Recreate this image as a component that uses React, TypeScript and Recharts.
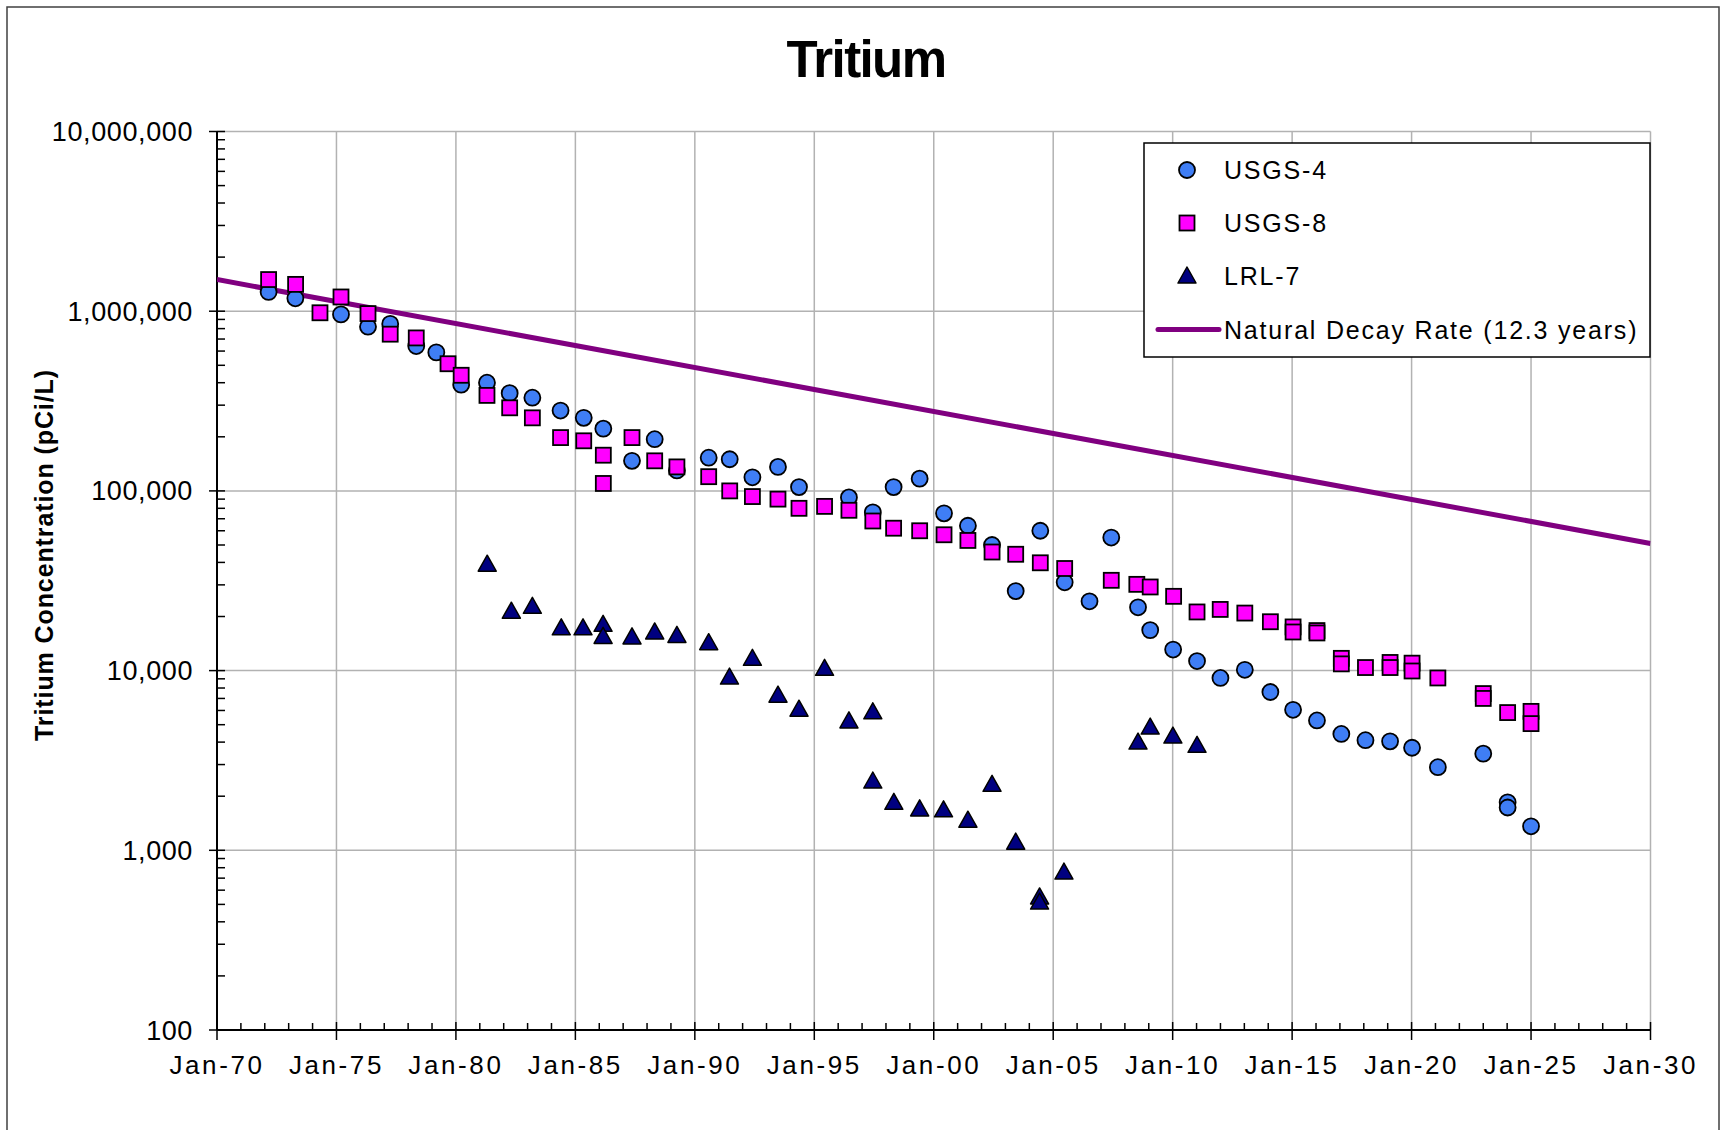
import React from "react";
import { ScatterChart, Scatter, XAxis, YAxis, CartesianGrid } from "recharts";

const FONT = '"Liberation Sans", Arial, Helvetica, sans-serif';

// [decimal year, tritium pCi/L]
const USGS4: [number, number][] = [
    [1972.16, 1280000], [1973.28, 1180000], [1975.19, 960000], [1976.32, 820000],
    [1977.25, 850000], [1978.34, 640000], [1979.18, 590000], [1980.22, 390000],
    [1981.3, 400000], [1982.25, 350000], [1983.2, 330000], [1984.38, 280000],
    [1985.35, 255000], [1986.17, 222000], [1987.37, 147000], [1988.32, 194000],
    [1989.25, 130000], [1990.58, 153000], [1991.46, 150000], [1992.41, 119000],
    [1993.48, 136000], [1994.36, 105000], [1996.45, 92000], [1997.45, 76000],
    [1998.32, 105000], [1999.41, 117000], [2000.43, 75000], [2001.43, 64000],
    [2002.44, 50000], [2003.43, 27700], [2004.46, 60000], [2005.48, 31000],
    [2006.52, 24300], [2007.43, 55000], [2008.55, 22500], [2009.06, 16800],
    [2010.02, 13100], [2011.02, 11300], [2012.0, 9100], [2013.02, 10100],
    [2014.09, 7600], [2015.04, 6050], [2016.04, 5280], [2017.06, 4440],
    [2018.07, 4100], [2019.1, 4040], [2020.02, 3720], [2021.1, 2900],
    [2023.0, 3450], [2024.02, 1850], [2024.02, 1730], [2025.0, 1360],
];

const USGS8: [number, number][] = [
    [1972.16, 1500000], [1973.29, 1410000], [1974.31, 980000], [1975.19, 1200000],
    [1976.32, 970000], [1977.25, 745000], [1978.34, 710000], [1979.67, 510000],
    [1980.22, 440000], [1981.3, 340000], [1982.25, 290000], [1983.2, 255000],
    [1984.38, 198000], [1985.35, 190000], [1986.17, 158000], [1986.17, 110000],
    [1987.37, 198000], [1988.32, 147000], [1989.25, 136000], [1990.58, 120000],
    [1991.46, 100000], [1992.41, 93000], [1993.48, 90000], [1994.36, 80000],
    [1995.43, 82000], [1996.45, 78000], [1997.45, 68000], [1998.32, 62000],
    [1999.41, 60000], [2000.43, 57000], [2001.43, 53000], [2002.44, 45700],
    [2003.43, 44400], [2004.46, 39800], [2005.48, 37000], [2007.43, 31800],
    [2008.5, 30200], [2009.06, 29200], [2010.04, 25900], [2011.02, 21200],
    [2011.99, 21900], [2013.02, 20900], [2014.09, 18700], [2015.04, 17500],
    [2015.04, 16400], [2016.04, 16700], [2016.04, 16200], [2017.06, 11700],
    [2017.06, 10900], [2018.07, 10400], [2019.1, 11100], [2019.1, 10400],
    [2020.02, 11000], [2020.02, 9950], [2021.1, 9100], [2023.0, 7450],
    [2023.0, 7000], [2024.02, 5840], [2025.0, 5930], [2025.0, 5070],
];

const LRL7: [number, number][] = [
    [1981.31, 39100], [1982.32, 21400], [1983.2, 22800], [1984.41, 17300],
    [1985.32, 17300], [1986.16, 18100], [1986.16, 15500], [1987.37, 15400],
    [1988.32, 16400], [1989.25, 15700], [1990.58, 14300], [1991.45, 9200],
    [1992.41, 11700], [1993.48, 7300], [1994.36, 6100], [1995.43, 10300],
    [1996.45, 5250], [1997.45, 5900], [1997.45, 2430], [1998.33, 1850],
    [1999.41, 1700], [2000.41, 1680], [2001.43, 1470], [2002.44, 2330],
    [2003.43, 1110], [2004.43, 550], [2004.43, 515], [2005.45, 757],
    [2008.55, 4000], [2009.06, 4850], [2010.01, 4320], [2011.02, 3840],
];

// natural decay, half-life 12.3 years
const DECAY: [number, number][] = [[1970, 1500000], [2030, 51000]];

const X_MAJOR = [1970, 1975, 1980, 1985, 1990, 1995, 2000, 2005, 2010, 2015, 2020, 2025, 2030];
const X_LABELS = ["Jan-70", "Jan-75", "Jan-80", "Jan-85", "Jan-90", "Jan-95", "Jan-00", "Jan-05", "Jan-10", "Jan-15", "Jan-20", "Jan-25", "Jan-30"];
const X_TICKS = Array.from({ length: 61 }, (_, i) => 1970 + i);

const Y_MAJOR = [100, 1000, 10000, 100000, 1000000, 10000000];
const Y_LABELS = ["100", "1,000", "10,000", "100,000", "1,000,000", "10,000,000"];
const Y_TICKS = Y_MAJOR.flatMap((d, i) =>
    i === Y_MAJOR.length - 1 ? [d] : [1, 2, 3, 4, 5, 6, 7, 8, 9].map((m) => d * m)
);

const toPoints = (rows: [number, number][]) => rows.map(([x, y]) => ({ x, y }));

const BLUE = "#3F7EF5";
const MAGENTA = "#FF00FF";
const NAVY = "#000080";
const PURPLE = "#800080";

const CircleMark = ({ cx, cy }: any) => (
    <circle cx={cx} cy={cy} r={8} fill={BLUE} stroke="#000" strokeWidth={1.8} />
);
const SquareMark = ({ cx, cy }: any) => (
    <rect x={cx - 7.5} y={cy - 7.5} width={15} height={15} fill={MAGENTA} stroke="#000" strokeWidth={1.8} />
);
const TriangleMark = ({ cx, cy }: any) => (
    <polygon points={`${cx},${cy - 9} ${cx - 9},${cy + 7} ${cx + 9},${cy + 7}`} fill={NAVY} stroke="#000" strokeWidth={1.5} strokeLinejoin="round" />
);
const NoMark = () => <g />;

const XTick = ({ x, y, payload }: any) => {
    const i = X_MAJOR.indexOf(payload.value);
    if (i < 0) return <line x1={x} x2={x} y1={y - 7} y2={y} stroke="#000" strokeWidth={1.5} />;
    return (
        <g>
            <line x1={x} x2={x} y1={y - 8} y2={y + 10} stroke="#000" strokeWidth={1.5} />
            <text x={x} y={y + 44} textAnchor="middle" fontSize={26} letterSpacing={2.6} fontFamily={FONT} fill="#000">
                {X_LABELS[i]}
            </text>
        </g>
    );
};

const YTick = ({ x, y, payload }: any) => {
    const i = Y_MAJOR.indexOf(payload.value);
    if (i < 0) return <line x1={x} x2={x + 8} y1={y} y2={y} stroke="#000" strokeWidth={1.5} />;
    return (
        <g>
            <line x1={x - 8} x2={x + 8} y1={y} y2={y} stroke="#000" strokeWidth={1.5} />
            <text x={x - 24} y={y + 9.5} textAnchor="end" fontSize={27} letterSpacing={0.6} fontFamily={FONT} fill="#000">
                {Y_LABELS[i]}
            </text>
        </g>
    );
};

const legendItems = [
    { label: "USGS-4", kind: "circle" },
    { label: "USGS-8", kind: "square" },
    { label: "LRL-7", kind: "triangle" },
    { label: "Natural Decay Rate (12.3 years)", kind: "line" },
];

function Legend() {
    const rows = [170, 223, 276, 329.5];
    return (
        <g>
            <rect x={1144} y={143} width={506} height={214} fill="#fff" stroke="#000" strokeWidth={1.5} />
            {legendItems.map((it, i) => {
                const cy = rows[i];
                let mark = null;
                if (it.kind === "circle") mark = <CircleMark cx={1187} cy={cy} />;
                if (it.kind === "square") mark = <SquareMark cx={1187} cy={cy} />;
                if (it.kind === "triangle") mark = <TriangleMark cx={1187} cy={cy} />;
                if (it.kind === "line")
                    mark = <line x1={1158} x2={1219} y1={cy} y2={cy} stroke={PURPLE} strokeWidth={5} strokeLinecap="round" />;
                return (
                    <g key={it.label}>
                        {mark}
                        <text x={1224} y={cy + 9} fontSize={25} letterSpacing={1.8} fontFamily={FONT} fill="#000">
                            {it.label}
                        </text>
                    </g>
                );
            })}
        </g>
    );
}

export default function App() {
    return (
        <div style={{ position: "absolute", left: 0, top: 0, width: 1722, height: 1130, background: "#fff", overflow: "hidden" }}>
            <ScatterChart
                width={1722}
                height={1130}
                margin={{ top: 131.5, right: 71.5, bottom: 40, left: 17 }}
            >
                <CartesianGrid
                    stroke="#b2b2b2"
                    strokeWidth={1.5}
                    horizontalValues={Y_MAJOR}
                    verticalValues={X_MAJOR}
                />
                <XAxis
                    type="number"
                    dataKey="x"
                    domain={[1970, 2030]}
                    ticks={X_TICKS}
                    interval={0}
                    height={60}
                    tickSize={0}
                    tickMargin={0}
                    tickLine={false}
                    axisLine={{ stroke: "#000", strokeWidth: 2 }}
                    tick={<XTick />}
                    allowDataOverflow
                />
                <YAxis
                    type="number"
                    dataKey="y"
                    scale="log"
                    domain={[100, 10000000]}
                    ticks={Y_TICKS}
                    interval={0}
                    width={200}
                    tickSize={0}
                    tickMargin={0}
                    tickLine={false}
                    axisLine={{ stroke: "#000", strokeWidth: 2 }}
                    tick={<YTick />}
                    allowDataOverflow
                />
                <Scatter
                    name="Natural Decay Rate (12.3 years)"
                    data={toPoints(DECAY)}
                    line={{ stroke: PURPLE, strokeWidth: 5 }}
                    shape={<NoMark />}
                    fill={PURPLE}
                    isAnimationActive={false}
                />
                <Scatter name="USGS-4" data={toPoints(USGS4)} shape={<CircleMark />} fill={BLUE} isAnimationActive={false} />
                <Scatter name="USGS-8" data={toPoints(USGS8)} shape={<SquareMark />} fill={MAGENTA} isAnimationActive={false} />
                <Scatter name="LRL-7" data={toPoints(LRL7)} shape={<TriangleMark />} fill={NAVY} isAnimationActive={false} />
            </ScatterChart>
            <svg width={1722} height={1130} style={{ position: "absolute", left: 0, top: 0, pointerEvents: "none" }}>
                <path d="M7,1130 V7 H1719 V1130" fill="none" stroke="#404040" strokeWidth={1.5} />
                <text x={866} y={77} textAnchor="middle" fontSize={51} fontWeight="bold" letterSpacing={-1.6} fontFamily={FONT} fill="#000">
                    Tritium
                </text>
                <text
                    transform="translate(53,555) rotate(-90)"
                    textAnchor="middle"
                    fontSize={25}
                    fontWeight="bold"
                    letterSpacing={0.9}
                    fontFamily={FONT}
                    fill="#000"
                >
                    Tritium Concentration (pCi/L)
                </text>
                <Legend />
            </svg>
        </div>
    );
}
